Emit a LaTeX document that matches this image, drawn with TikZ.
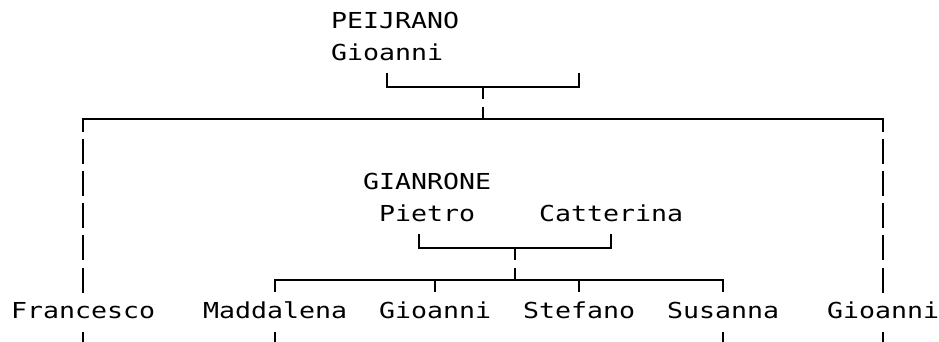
\documentclass[tikz,border=0pt]{standalone}
\usepackage{fontspec}
\newfontfamily\famfont[FakeStretch=1.208]{DejaVu Sans Mono}
\begin{document}
\begin{tikzpicture}[x=1pt,y=-1pt,
  txt/.style={inner xsep=0pt, inner ysep=0pt, text height=17pt, text depth=5pt,
    anchor=base west, font=\famfont\fontsize{22}{26}\selectfont, text=black},
  hline/.style={line width=2.2pt, line cap=rect, line join=miter, draw=black},
  vline/.style={line width=2.2pt, line cap=butt, draw=black,
    dash pattern=on 25pt off 7.2pt, dash phase=12.5pt}]
\useasboundingbox (0,0) rectangle (939,341);
\clip (0,0) rectangle (939,341);
% texts
\node[txt] (peij) at (331,28.5) {PEIJRANO};
\node[txt] (peijg) at (331,60.7) {Gioanni};
\node[txt] (gian) at (363,189.5) {GIANRONE};
\node[txt] (piet) at (379,221.7) {Pietro};
\node[txt] (catt) at (539,221.7) {Catterina};
\node[txt] (fran) at (11,318.3) {Francesco};
\node[txt] (madd) at (203,318.3) {Maddalena};
\node[txt] (gioa) at (379,318.3) {Gioanni};
\node[txt] (stef) at (523,318.3) {Stefano};
\node[txt] (susa) at (667,318.3) {Susanna};
\node[txt] (giob) at (827,318.3) {Gioanni};
% junctions
\coordinate (tL) at (387,74.4);
\coordinate (tR) at (579,74.4);
\coordinate (tJ) at (483,86.9);
\coordinate (mJ) at (483,119.1);
\coordinate (pL) at (419,235.4);
\coordinate (pR) at (611,235.4);
\coordinate (pJ) at (515,247.9);
\coordinate (cJ) at (515,280.1);
\coordinate (bot) at (0,350);
% top couple
\draw[hline] (tL) |- (tJ) -| (tR);
\draw[vline] (tJ) -- (mJ);
\draw[hline] (fran.north |- mJ) -- (giob.north |- mJ);
\draw[vline, shorten >=2pt] (fran.north |- mJ) -- (fran.north);
\draw[vline, shorten >=2pt] (giob.north |- mJ) -- (giob.north);
% second couple
\draw[hline] (pL) |- (pJ) -| (pR);
\draw[vline] (pJ) -- (cJ);
\draw[hline] (madd.north |- cJ) -- (susa.north |- cJ);
\foreach \n in {madd,gioa,stef,susa}
  \draw[hline, line cap=butt, shorten >=8.8pt] (\n.north |- cJ) -- (\n.north);
% stubs below
\foreach \n in {fran,madd,susa,giob}
  \draw[hline, line cap=butt, shorten <=8.7pt] (\n.south) -- (\n.south |- bot);
\end{tikzpicture}
\end{document}
